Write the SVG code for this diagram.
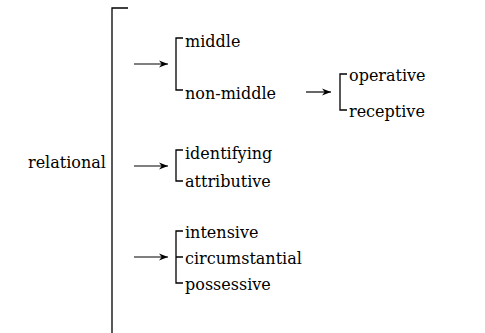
<svg xmlns="http://www.w3.org/2000/svg" width="485" height="333" viewBox="0 0 485 333">
  <defs>
    <marker id="head" viewBox="0 0 10 10" refX="10" refY="5" markerWidth="9" markerHeight="9" markerUnits="userSpaceOnUse" orient="auto">
      <path d="M0,1 L10,5 L0,9 L3,5 Z" fill="#000"/>
    </marker>
    <style>
      text { font-family: "DejaVu Serif", "Liberation Serif", serif; font-size: 16px; fill: #000; }
      .ln { stroke: #000; stroke-width: 1.3; fill: none; }
      .arr { stroke: #000; stroke-width: 1.2; fill: none; marker-end: url(#head); }
    </style>
  </defs>
  <rect width="485" height="333" fill="#fff"/>

  <g id="connectors">
    <!-- main system bracket -->
    <path class="ln" d="M128,8 H112 V333"/>
    <!-- agency branch -->
    <line class="arr" x1="134" y1="64" x2="168" y2="64"/>
    <path class="ln" d="M183,38 H176 V90 H183"/>
    <line class="arr" x1="306" y1="92" x2="331" y2="92"/>
    <path class="ln" d="M347,74 H340 V110 H347"/>
    <!-- mode branch -->
    <line class="arr" x1="134" y1="166" x2="168" y2="166"/>
    <path class="ln" d="M183,150 H176 V181 H183"/>
    <!-- type branch -->
    <line class="arr" x1="134" y1="257" x2="168" y2="257"/>
    <path class="ln" d="M183,231 H176 V283 H183 M176,257 H183"/>
  </g>

  <g id="relational"><text x="28" y="168">relational</text></g>
  <g id="middle"><text x="185" y="47">middle</text></g>
  <g id="non-middle"><text x="185" y="99">non-middle</text></g>
  <g id="operative"><text x="349" y="81">operative</text></g>
  <g id="receptive"><text x="349" y="117">receptive</text></g>
  <g id="identifying"><text x="185" y="159">identifying</text></g>
  <g id="attributive"><text x="185" y="187">attributive</text></g>
  <g id="intensive"><text x="185" y="238">intensive</text></g>
  <g id="circumstantial"><text x="185" y="264">circumstantial</text></g>
  <g id="possessive"><text x="185" y="290">possessive</text></g>
</svg>
